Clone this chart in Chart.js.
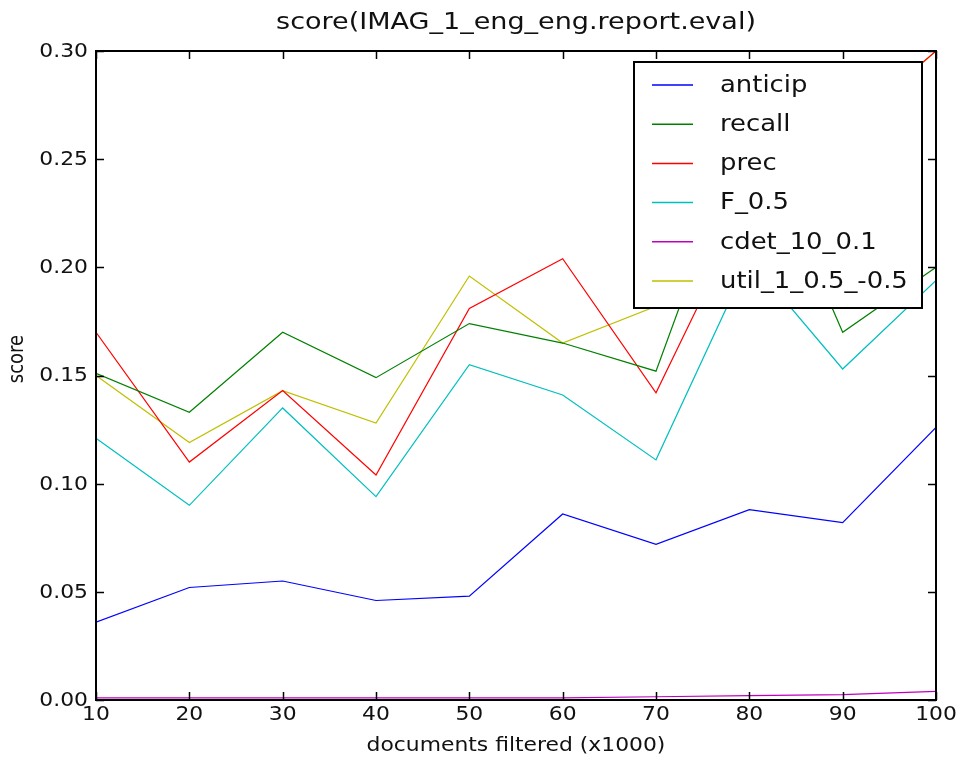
<!DOCTYPE html>
<html>
<head>
<meta charset="utf-8">
<script src="https://cdn.jsdelivr.net/npm/chart.js@4/dist/chart.umd.min.js"></script>
<style>
html,body{margin:0;padding:0;background:#fff;}
canvas{display:block;}
</style>
</head>
<body>
<canvas id="c" width="964" height="760"></canvas>
<script>
// ---- data ----
const docs = [10, 20, 30, 40, 50, 60, 70, 80, 90, 100];
const anticip = [0.036, 0.052, 0.055, 0.046, 0.048, 0.086, 0.072, 0.088, 0.082, 0.126];
const recall  = [0.151, 0.133, 0.170, 0.149, 0.174, 0.165, 0.152, 0.270, 0.170, 0.200];
const prec    = [0.170, 0.110, 0.143, 0.104, 0.181, 0.204, 0.142, 0.231, 0.263, 0.300];
const f05     = [0.121, 0.090, 0.135, 0.094, 0.155, 0.141, 0.111, 0.204, 0.153, 0.194];
const cdet    = [0.001, 0.001, 0.001, 0.001, 0.001, 0.001, 0.0015, 0.002, 0.0025, 0.004];
const util    = [0.150, 0.119, 0.143, 0.128, 0.196, 0.165, 0.182, 0.245, 0.262, 0.300];

const seriesNames = ['anticip', 'recall', 'prec', 'F_0.5', 'cdet_10_0.1', 'util_1_0.5_-0.5'];
const seriesColors = ['#0000ff', '#008000', '#ff0000', '#00bfbf', '#bf00bf', '#bfbf00'];
const xTicks = [10, 20, 30, 40, 50, 60, 70, 80, 90, 100];
const xTickLabels = ['10', '20', '30', '40', '50', '60', '70', '80', '90', '100'];
const yTicks = [0, 0.05, 0.10, 0.15, 0.20, 0.25, 0.30];
const yTickLabels = ['0.00', '0.05', '0.10', '0.15', '0.20', '0.25', '0.30'];
const titleText = 'score(IMAG_1_eng_eng.report.eval)';
const xLabel = 'documents filtered (x1000)';
const yLabel = 'score';

const allSeries = [anticip, recall, prec, f05, cdet, util];
const datasets = allSeries.map((vals, i) => ({
  label: seriesNames[i],
  data: vals.map((v, j) => ({x: docs[j], y: v})),
  borderColor: seriesColors[i],
  backgroundColor: seriesColors[i],
  borderWidth: 1.2,
  pointRadius: 0,
  tension: 0,
  fill: false
}));

const SX = 1.15; // horizontal text stretch of the reference
const FONT = '"DejaVu Sans", Verdana, sans-serif';

function stretchText(ctx, s, x, y, align, base, size) {
  ctx.save();
  ctx.font = size + 'px ' + FONT;
  ctx.translate(x, y);
  ctx.scale(SX, 1);
  ctx.textAlign = align;
  ctx.textBaseline = base;
  ctx.fillText(s, 0, 0);
  ctx.restore();
}

const decor = {
  id: 'decor',
  afterDatasetsDraw(chart) {
    const ctx = chart.ctx;
    const a = chart.chartArea;
    const xs = chart.scales.x, ys = chart.scales.y;
    ctx.save();
    ctx.fillStyle = '#111';
    ctx.strokeStyle = '#000';
    // ticks (inward, all four sides)
    ctx.lineWidth = 1.5;
    ctx.beginPath();
    xTicks.forEach(t => {
      const px = Math.round(xs.getPixelForValue(t)) + 0.5;
      ctx.moveTo(px, a.bottom); ctx.lineTo(px, a.bottom - 8);
      ctx.moveTo(px, a.top); ctx.lineTo(px, a.top + 8);
    });
    yTicks.forEach(t => {
      const py = Math.round(ys.getPixelForValue(t)) + 0.5;
      ctx.moveTo(a.left, py); ctx.lineTo(a.left + 8, py);
      ctx.moveTo(a.right, py); ctx.lineTo(a.right - 8, py);
    });
    ctx.stroke();
    // frame
    ctx.lineWidth = 2;
    ctx.strokeRect(a.left, a.top, a.right - a.left, a.bottom - a.top);
    // tick labels
    xTicks.forEach((t, i) => {
      stretchText(ctx, xTickLabels[i], xs.getPixelForValue(t), a.bottom + 6, 'center', 'top', 19);
    });
    yTicks.forEach((t, i) => {
      stretchText(ctx, yTickLabels[i], a.left - 8, ys.getPixelForValue(t) + 1, 'right', 'middle', 19);
    });
    // title
    stretchText(ctx, titleText, (a.left + a.right) / 2, 23, 'center', 'middle', 23.5);
    // x label
    stretchText(ctx, xLabel, (a.left + a.right) / 2, 746, 'center', 'middle', 19);
    // y label
    ctx.save();
    ctx.font = '18px ' + FONT;
    ctx.translate(18, 359);
    ctx.rotate(-Math.PI / 2);
    ctx.scale(1, SX);
    ctx.textAlign = 'center';
    ctx.textBaseline = 'middle';
    ctx.fillText(yLabel, 0, 0);
    ctx.restore();
    // legend box
    const lx = 634, ly = 62, lw = 288, lh = 246;
    ctx.fillStyle = '#fff';
    ctx.fillRect(lx, ly, lw, lh);
    ctx.lineWidth = 2;
    ctx.strokeStyle = '#000';
    ctx.strokeRect(lx, ly, lw, lh);
    chart.data.datasets.forEach((ds, i) => {
      const yy = 85 + i * 39.2;
      ctx.strokeStyle = ds.borderColor;
      ctx.lineWidth = 1.5;
      ctx.beginPath();
      ctx.moveTo(652, yy); ctx.lineTo(693, yy);
      ctx.stroke();
      ctx.fillStyle = '#111';
      stretchText(ctx, ds.label, 720, yy + 1, 'left', 'middle', 22.5);
    });
    ctx.restore();
  }
};

new Chart(document.getElementById('c'), {
  type: 'line',
  data: { datasets },
  options: {
    responsive: false,
    animation: false,
    layout: { padding: { left: 96, right: 28, top: 51, bottom: 60 } },
    plugins: { legend: { display: false }, title: { display: false }, tooltip: { enabled: false } },
    scales: {
      x: { type: 'linear', display: false, min: 10, max: 100 },
      y: { type: 'linear', display: false, min: 0, max: 0.30 }
    }
  },
  plugins: [decor]
});
</script>
</body>
</html>
